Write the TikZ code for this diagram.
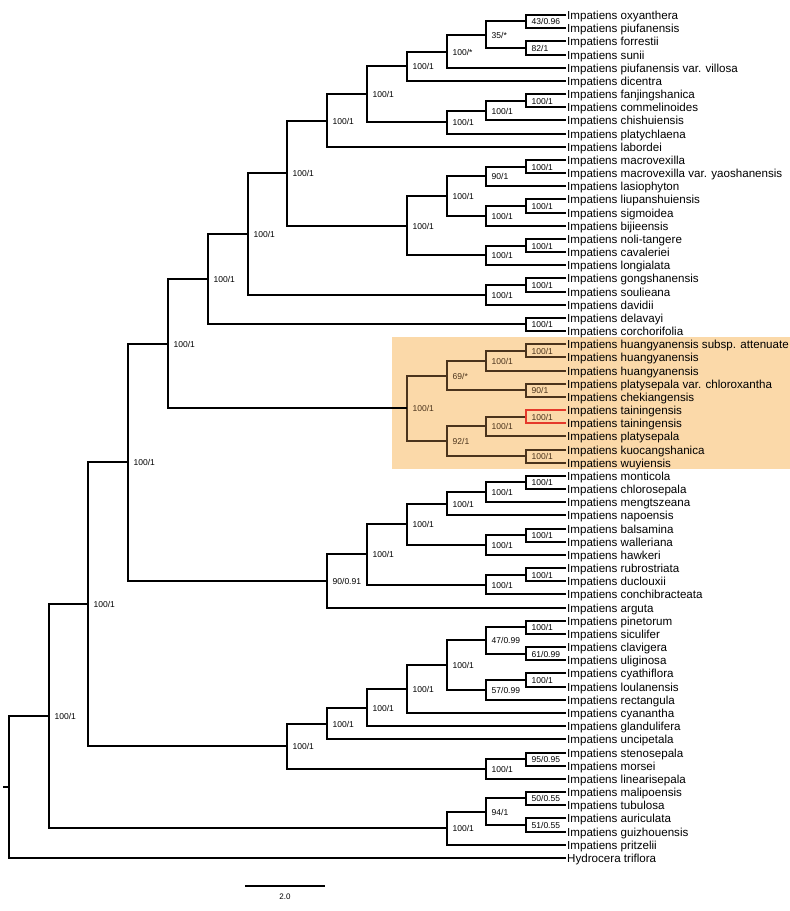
\documentclass[tikz,border=0pt]{standalone}
\usepackage{fontspec}
\setmainfont{Liberation Sans}
\definecolor{band}{HTML}{FBD9A9}
\definecolor{brownline}{HTML}{4A331C}
\definecolor{redline}{HTML}{E5392B}
\tikzset{
  branch/.style={line width=2pt, line join=miter, black},
  brn/.style={color=brownline},
  lf/.style={anchor=west, inner sep=1pt, font=\fontsize{11.6}{13}\selectfont, text height=8.3pt, text depth=0pt},
  lb/.style={anchor=west, inner sep=0pt, font=\fontsize{8.5}{10}\selectfont, text height=6.1pt, text depth=0pt, xshift=5.5pt},
}
\newcommand\clade[6][]{\coordinate (#2) at (#3); \draw[branch,#1] (#4) -| (#2) |- (#5); \node[lb,#1] (t#2) at (#2) {#6};}
\begin{document}
\begin{tikzpicture}[x=1pt,y=-1pt]
\useasboundingbox (0,0) rectangle (790,911);
\fill[band] (392,337) rectangle (790,469);
\foreach \t [count=\i from 0, evaluate=\i as \yy using {round(15+13.17*\i)}] in {Impatiens oxyanthera, Impatiens piufanensis, Impatiens forrestii, Impatiens sunii, Impatiens piufanensis var. villosa, Impatiens dicentra, Impatiens fanjingshanica, Impatiens commelinoides, Impatiens chishuiensis, Impatiens platychlaena, Impatiens labordei, Impatiens macrovexilla, Impatiens macrovexilla var. yaoshanensis, Impatiens lasiophyton, Impatiens liupanshuiensis, Impatiens sigmoidea, Impatiens bijieensis, Impatiens noli-tangere, Impatiens cavaleriei, Impatiens longialata, Impatiens gongshanensis, Impatiens soulieana, Impatiens davidii, Impatiens delavayi, Impatiens corchorifolia, Impatiens huangyanensis subsp. attenuate, Impatiens huangyanensis, Impatiens huangyanensis, Impatiens platysepala var. chloroxantha, Impatiens chekiangensis, Impatiens tainingensis, Impatiens tainingensis, Impatiens platysepala, Impatiens kuocangshanica, Impatiens wuyiensis, Impatiens monticola, Impatiens chlorosepala, Impatiens mengtszeana, Impatiens napoensis, Impatiens balsamina, Impatiens walleriana, Impatiens hawkeri, Impatiens rubrostriata, Impatiens duclouxii, Impatiens conchibracteata, Impatiens arguta, Impatiens pinetorum, Impatiens siculifer, Impatiens clavigera, Impatiens uliginosa, Impatiens cyathiflora, Impatiens loulanensis, Impatiens rectangula, Impatiens cyanantha, Impatiens glandulifera, Impatiens uncipetala, Impatiens stenosepala, Impatiens morsei, Impatiens linearisepala, Impatiens malipoensis, Impatiens tubulosa, Impatiens auriculata, Impatiens guizhouensis, Impatiens pritzelii, Hydrocera triflora}
  \node[lf] (l\i) at (566,\yy) {\t};
% top clade
\clade{a1}{526,21}{l0.west}{l1.west}{43/0.96}
\clade{a2}{526,48}{l2.west}{l3.west}{82/1}
\clade{a3}{486,35}{a1}{a2}{35/*}
\clade{a4}{447,52}{a3}{l4.west}{100/*}
\clade{a5}{407,66}{a4}{l5.west}{100/1}
\clade{a6}{526,101}{l6.west}{l7.west}{100/1}
\clade{a7}{486,111}{a6}{l8.west}{100/1}
\clade{a8}{447,122}{a7}{l9.west}{100/1}
\clade{a9}{367,94}{a5}{a8}{100/1}
\clade{a10}{327,121}{a9}{l10.west}{100/1}
\clade{b1}{526,167}{l11.west}{l12.west}{100/1}
\clade{b2}{486,176}{b1}{l13.west}{90/1}
\clade{b3}{526,206}{l14.west}{l15.west}{100/1}
\clade{b4}{486,216}{b3}{l16.west}{100/1}
\clade{b5}{447,196}{b2}{b4}{100/1}
\clade{b6}{526,246}{l17.west}{l18.west}{100/1}
\clade{b7}{486,255}{b6}{l19.west}{100/1}
\clade{b8}{407,226}{b5}{b7}{100/1}
\clade{c1}{287,173}{a10}{b8}{100/1}
\clade{c2}{526,285}{l20.west}{l21.west}{100/1}
\clade{c3}{486,295}{c2}{l22.west}{100/1}
\clade{c4}{248,234}{c1}{c3}{100/1}
\clade{c5}{526,324}{l23.west}{l24.west}{100/1}
\clade{c6}{208,279}{c4}{c5}{100/1}
% highlighted clade
\clade[brn]{d1}{526,351}{l25.west}{l26.west}{100/1}
\clade[brn]{d2}{486,361}{d1}{l27.west}{100/1}
\clade[brn]{d3}{526,390}{l28.west}{l29.west}{90/1}
\clade[brn]{d4}{447,376}{d2}{d3}{69/*}
\coordinate (d5) at (526,417);
\clade[brn]{d6}{486,426}{d5}{l32.west}{100/1}
\draw[branch,redline,line width=1.5pt] (l30.west) -| (d5) |- (l31.west);
\node[lb,brn] (td5) at (d5) {100/1};
\clade[brn]{d7}{526,456}{l33.west}{l34.west}{100/1}
\clade[brn]{d8}{447,441}{d6}{d7}{92/1}
\clade[brn]{d9}{407,408}{d4}{d8}{100/1}
\clade{e0}{168,344}{c6}{d9}{100/1}
% middle clade
\clade{f1}{526,482}{l35.west}{l36.west}{100/1}
\clade{f2}{486,492}{f1}{l37.west}{100/1}
\clade{f3}{447,504}{f2}{l38.west}{100/1}
\clade{f4}{526,535}{l39.west}{l40.west}{100/1}
\clade{f5}{486,545}{f4}{l41.west}{100/1}
\clade{f6}{407,524}{f3}{f5}{100/1}
\clade{f7}{526,575}{l42.west}{l43.west}{100/1}
\clade{f8}{486,585}{f7}{l44.west}{100/1}
\clade{f9}{367,554}{f6}{f8}{100/1}
\clade{f10}{327,581}{f9}{l45.west}{90/0.91}
\clade{g0}{128,462}{e0}{f10}{100/1}
% lower clade
\clade{h1}{526,627}{l46.west}{l47.west}{100/1}
\clade{h2}{526,654}{l48.west}{l49.west}{61/0.99}
\clade{h3}{486,640}{h1}{h2}{47/0.99}
\clade{h4}{526,680}{l50.west}{l51.west}{100/1}
\clade{h5}{486,690}{h4}{l52.west}{57/0.99}
\clade{h6}{447,665}{h3}{h5}{100/1}
\clade{h7}{407,689}{h6}{l53.west}{100/1}
\clade{h8}{367,708}{h7}{l54.west}{100/1}
\clade{h9}{327,724}{h8}{l55.west}{100/1}
\clade{h10}{526,759}{l56.west}{l57.west}{95/0.95}
\clade{h11}{486,769}{h10}{l58.west}{100/1}
\clade{h12}{287,746}{h9}{h11}{100/1}
\clade{i0}{88,604}{g0}{h12}{100/1}
\clade{j1}{526,798}{l59.west}{l60.west}{50/0.55}
\clade{j2}{526,825}{l61.west}{l62.west}{51/0.55}
\clade{j3}{486,812}{j1}{j2}{94/1}
\clade{j4}{447,828}{j3}{l63.west}{100/1}
\clade{k0}{49,716}{i0}{j4}{100/1}
% root
\coordinate (root) at (9,787);
\coordinate (rtick) at (3,787);
\draw[branch] (k0) -| (root) |- (l64.west);
\draw[branch] (rtick) -- (root);
% scale bar
\coordinate (s1) at (245,886);
\coordinate (s2) at (325,886);
\draw[branch] (s1) -- (s2);
\node[font=\fontsize{8}{9}\selectfont, inner sep=0pt] (slab) at (285,897) {2.0};
\end{tikzpicture}
\end{document}
